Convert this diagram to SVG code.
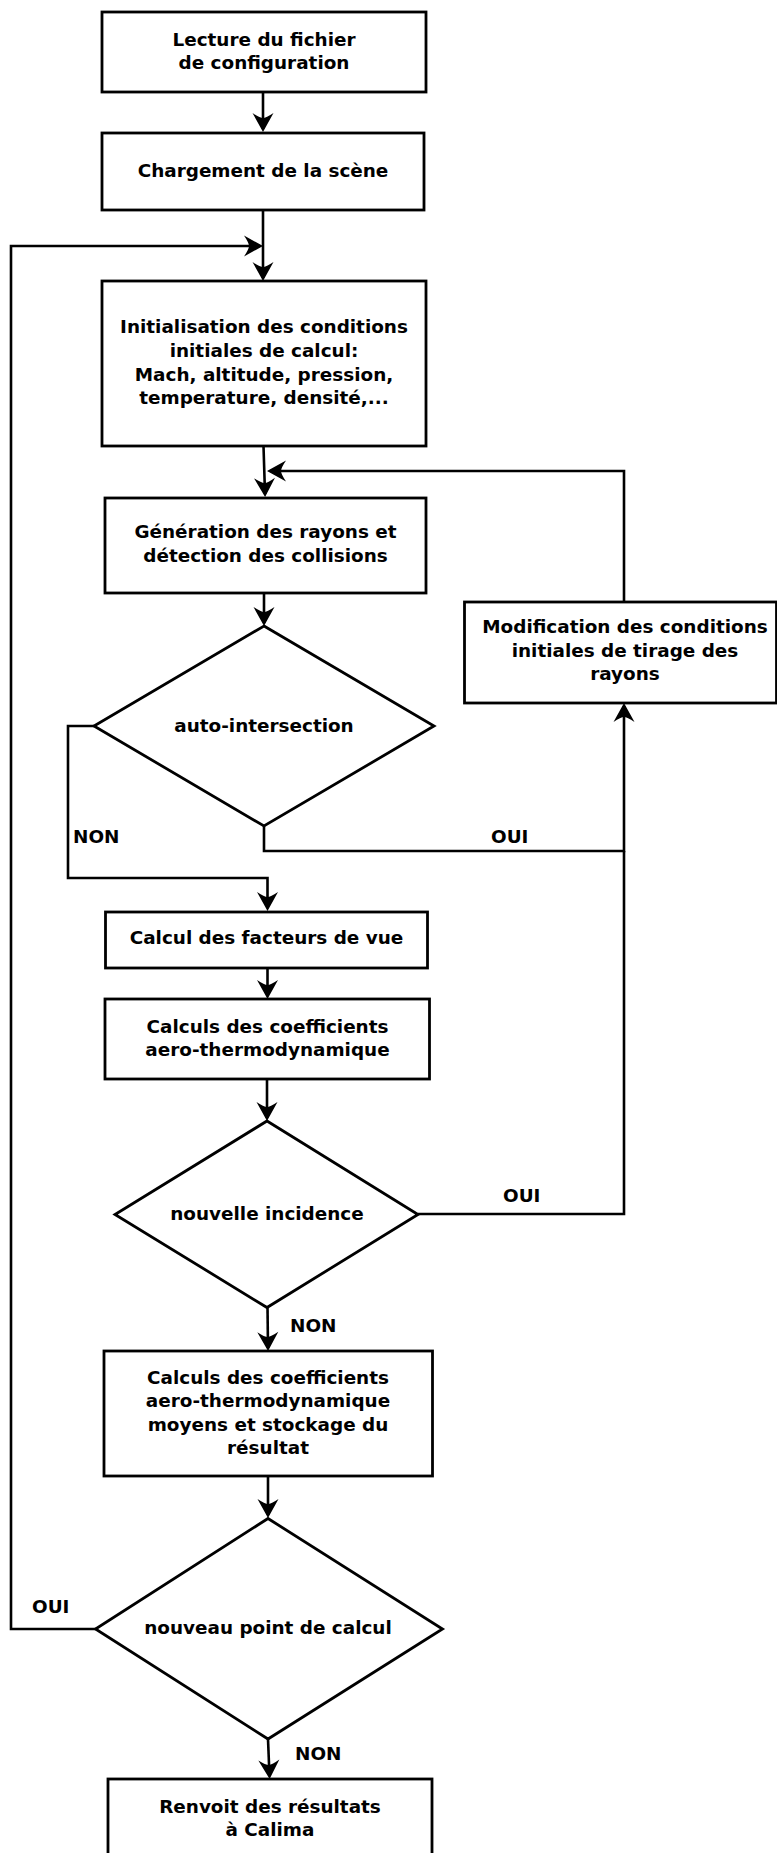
<svg xmlns="http://www.w3.org/2000/svg" width="777" height="1853" viewBox="0 0 777 1853">
<style>
.n{fill:#fff;stroke:#000;stroke-width:2.8}
.t{font-family:"DejaVu Sans",sans-serif;font-weight:bold;font-size:18.4px;fill:#000;text-anchor:middle}
.l{font-family:"DejaVu Sans",sans-serif;font-weight:bold;font-size:18.4px;fill:#000}
.c{fill:none;stroke:#000;stroke-width:2.6}
</style>
<defs>
<marker id="a" markerUnits="userSpaceOnUse" viewBox="-22 -12 26 24" markerWidth="26" markerHeight="24" refX="0" refY="0" orient="auto">
<path d="M3,0 L-16,-10.5 Q-11,-3 -11,0 Q-11,3 -16,10.5 Z" fill="#000"/>
</marker>
</defs>
<rect width="777" height="1853" fill="#fff"/>
<g id="connectors">
<path class="c" d="M263,92 L263,129" marker-end="url(#a)"/>
<path class="c" d="M263,210 L263,278" marker-end="url(#a)"/>
<path class="c" d="M96,1629 L11,1629 L11,246 L260,246" marker-end="url(#a)"/>
<path class="c" d="M263.5,446 L265,494" marker-end="url(#a)"/>
<path class="c" d="M624,602 L624,471 L270,471" marker-end="url(#a)"/>
<path class="c" d="M264,593 L264,623" marker-end="url(#a)"/>
<path class="c" d="M94,726 L68,726 L68,878 L267.5,878 L267.5,908" marker-end="url(#a)"/>
<path class="c" d="M264,826 L264,851 L624,851 L624,706" marker-end="url(#a)"/>
<path class="c" d="M418,1214 L624,1214 L624,851"/>
<path class="c" d="M267.5,968 L267.5,996" marker-end="url(#a)"/>
<path class="c" d="M267,1079 L267,1118" marker-end="url(#a)"/>
<path class="c" d="M267.5,1307 L268,1348" marker-end="url(#a)"/>
<path class="c" d="M268,1476 L268,1515" marker-end="url(#a)"/>
<path class="c" d="M268,1739 L269.5,1776" marker-end="url(#a)"/>
<text class="l" x="73" y="843">NON</text>
<text class="l" x="491" y="843">OUI</text>
<text class="l" x="503" y="1202">OUI</text>
<text class="l" x="290" y="1332">NON</text>
<text class="l" x="32" y="1613">OUI</text>
<text class="l" x="295" y="1760">NON</text>
</g>
<g id="n1"><rect class="n" x="102" y="12" width="324" height="80"/>
<text class="t" x="264" y="45.5">Lecture du fichier</text><text class="t" x="264" y="69">de configuration</text></g>
<g id="n2"><rect class="n" x="102" y="133" width="322" height="77"/>
<text class="t" x="263" y="176.5">Chargement de la scène</text></g>
<g id="n3"><rect class="n" x="102" y="281" width="324" height="165"/>
<text class="t" x="264" y="333">Initialisation des conditions</text><text class="t" x="264" y="357">initiales de calcul:</text><text class="t" x="264" y="380.5">Mach, altitude, pression,</text><text class="t" x="264" y="404">temperature, densité,...</text></g>
<g id="n4"><rect class="n" x="105" y="498" width="321" height="95"/>
<text class="t" x="265.5" y="538">Génération des rayons et</text><text class="t" x="265.5" y="561.5">détection des collisions</text></g>
<g id="n5"><polygon class="n" points="264,626 434,726 264,826 94,726"/>
<text class="t" x="264" y="731.5">auto-intersection</text></g>
<g id="n6"><rect class="n" x="464.5" y="602" width="312" height="101"/>
<text class="t" x="625" y="633">Modification des conditions</text><text class="t" x="625" y="656.5">initiales de tirage des</text><text class="t" x="625" y="680">rayons</text></g>
<g id="n7"><rect class="n" x="105.5" y="912" width="322" height="56"/>
<text class="t" x="266.5" y="944">Calcul des facteurs de vue</text></g>
<g id="n8"><rect class="n" x="105" y="999" width="324.5" height="80"/>
<text class="t" x="267.5" y="1032.5">Calculs des coefficients</text><text class="t" x="267.5" y="1055.5">aero-thermodynamique</text></g>
<g id="n9"><polygon class="n" points="267,1121 418,1214.5 267,1307.5 115,1214.5"/>
<text class="t" x="267" y="1220">nouvelle incidence</text></g>
<g id="n10"><rect class="n" x="104" y="1351" width="328.5" height="125"/>
<text class="t" x="268" y="1384">Calculs des coefficients</text><text class="t" x="268" y="1407.3">aero-thermodynamique</text><text class="t" x="268" y="1430.6">moyens et stockage du</text><text class="t" x="268" y="1453.5">résultat</text></g>
<g id="n11"><polygon class="n" points="268,1518.5 442.5,1629 268,1739 95.5,1629"/>
<text class="t" x="268" y="1634">nouveau point de calcul</text></g>
<g id="n12"><rect class="n" x="108" y="1779" width="324" height="100"/>
<text class="t" x="270" y="1812.5">Renvoit des résultats</text><text class="t" x="270" y="1836">à Calima</text></g>
</svg>
